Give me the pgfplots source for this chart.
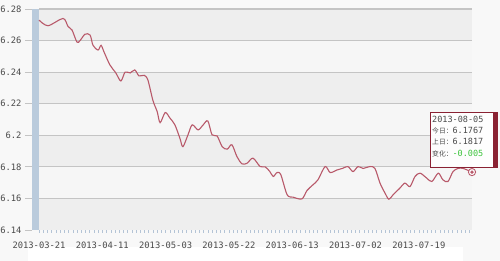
\documentclass[border=0pt]{standalone}
\usepackage{pgfplots}
\pgfplotsset{compat=1.18}
\usepackage{fontspec}
\newfontfamily\lab{DejaVu Sans Mono}
\newfontfamily\cjk{Noto Sans CJK SC}
\definecolor{bg}{HTML}{F8F8F8}
\definecolor{bandlight}{HTML}{F6F6F6}
\definecolor{banddark}{HTML}{EEEEEE}
\definecolor{gridc}{HTML}{C4C4C4}
\definecolor{barblue}{HTML}{BACBDC}
\definecolor{tickblue}{HTML}{B4C4D6}
\definecolor{labgray}{HTML}{4A4A4A}
\definecolor{linered}{HTML}{B8596A}
\definecolor{boxred}{HTML}{8A2233}
\definecolor{greenv}{HTML}{3CC43C}
\begin{document}
\begin{tikzpicture}
\fill[bg] (-32pt,-31pt) rectangle (468pt,230pt);
\fill[white] (-4pt,-31pt) rectangle (431pt,-17pt);
\begin{axis}[
  at={(0pt,0pt)}, anchor=south west,
  scale only axis, width=440pt, height=221pt,
  xmin=-1.66, xmax=102.6, ymin=6.14, ymax=6.28,
  clip=false,
  axis line style={draw=none},
  ytick={6.14,6.16,6.18,6.2,6.22,6.24,6.26,6.28},
  yticklabels={6.14,6.16,6.18,6.2,6.22,6.24,6.26,6.28},
  xtick={0,15,30,45,60,75,90},
  xticklabels={2013-03-21,2013-04-11,2013-05-03,2013-05-22,2013-06-13,2013-07-02,2013-07-19},
  minor xtick={0,1,...,102},
  ytick pos=left, xtick pos=bottom,
  tick align=outside,
  major tick length=7pt,
  minor tick length=3pt,
  ytick style={draw=gridc, line width=0.8pt},
  xtick style={draw=tickblue, line width=0.5pt, /pgfplots/major tick length=3pt},
  minor tick style={draw=tickblue, line width=0.5pt},
  /pgf/number format/assume math mode=true,
  ticklabel style={font=\lab\fontsize{8.8}{9}\selectfont, text=labgray},
  xticklabel style={yshift=-1pt},
]
\fill[bandlight] (axis cs:-1.66,6.14) rectangle (axis cs:102.6,6.28);
\fill[banddark] (axis cs:-1.66,6.26) rectangle (axis cs:102.6,6.28);
\fill[banddark] (axis cs:-1.66,6.22) rectangle (axis cs:102.6,6.24);
\fill[banddark] (axis cs:-1.66,6.18) rectangle (axis cs:102.6,6.20);
\fill[banddark] (axis cs:-1.66,6.14) rectangle (axis cs:102.6,6.16);
\draw[gridc, line width=1.2pt] (axis cs:0,6.28) -- (axis cs:102.6,6.28);
\draw[gridc, line width=1.2pt] (axis cs:0,6.26) -- (axis cs:102.6,6.26);
\draw[gridc, line width=1.2pt] (axis cs:0,6.24) -- (axis cs:102.6,6.24);
\draw[gridc, line width=1.2pt] (axis cs:0,6.22) -- (axis cs:102.6,6.22);
\draw[gridc, line width=1.2pt] (axis cs:0,6.20) -- (axis cs:102.6,6.20);
\draw[gridc, line width=1.2pt] (axis cs:0,6.18) -- (axis cs:102.6,6.18);
\draw[gridc, line width=1.2pt] (axis cs:0,6.16) -- (axis cs:102.6,6.16);
\fill[barblue] (axis cs:-1.66,6.14) rectangle (axis cs:0,6.28);
\addplot[linered, line width=1.1pt, smooth, tension=0.5] table {
x y
0 6.273
2.13 6.2694
5.69 6.274
6.87 6.269
7.82 6.2667
9.0 6.259
9.72 6.260
10.9 6.264
12.1 6.2635
12.8 6.257
14.0 6.254
14.7 6.257
15.4 6.2528
16.8 6.2446
18.2 6.2395
19.4 6.2344
20.4 6.240
21.6 6.2395
22.7 6.2414
23.7 6.2376
24.9 6.238
25.8 6.235
27.0 6.222
28.0 6.215
28.7 6.208
29.9 6.2144
31.0 6.211
32.2 6.2066
33.4 6.198
34.1 6.1928
35.3 6.2003
36.3 6.2066
37.7 6.2034
38.9 6.2066
40.0 6.2091
41.0 6.2003
42.2 6.1996
43.4 6.1928
44.6 6.1912
45.7 6.194
46.9 6.1865
48.1 6.1819
49.3 6.1823
50.7 6.1855
52.4 6.1802
53.6 6.180
54.7 6.177
55.5 6.1739
56.4 6.1764
57.3 6.175
58.8 6.1623
60.2 6.1608
62.3 6.1597
63.5 6.165
64.9 6.1686
66.1 6.1718
67.8 6.1802
69.0 6.1764
70.6 6.178
72.0 6.1791
73.2 6.1802
74.4 6.177
75.6 6.1802
76.8 6.179
78.4 6.1802
79.6 6.179
80.8 6.1697
82.0 6.1633
82.9 6.1595
83.9 6.1623
85.5 6.1665
86.7 6.1697
87.9 6.1675
89.1 6.1739
90.3 6.176
91.9 6.1728
93.1 6.1707
94.6 6.176
95.7 6.1718
96.9 6.1707
98.1 6.177
99.3 6.179
100.5 6.179
102.6 6.1767
};
\addplot[only marks, mark=*, mark size=3.6pt, mark options={fill=white, draw=linered, line width=0.9pt}] coordinates {(102.6,6.1767)};
\addplot[only marks, mark=*, mark size=1.5pt, mark options={fill=linered, draw=linered}] coordinates {(102.6,6.1767)};
\end{axis}
% tooltip
\fill[white, opacity=0.92] (398pt,63pt) rectangle (465pt,118pt);
\draw[boxred, line width=0.9pt] (398pt,63pt) rectangle (465pt,118pt);
\fill[boxred] (461pt,63pt) rectangle (465pt,118pt);
\begin{scope}[every node/.style={anchor=west, inner sep=0pt, font=\lab\fontsize{8.5}{9}\selectfont, text=labgray}]
\node at (400pt,111pt) {2013-08-05};
\node at (400pt,99.5pt) {{\cjk\fontsize{6.8}{7}\selectfont 今日：}6.1767};
\node at (400pt,88pt) {{\cjk\fontsize{6.8}{7}\selectfont 上日：}6.1817};
\node at (400pt,76.5pt) {{\cjk\fontsize{6.8}{7}\selectfont 变化：}\textcolor{greenv}{-0.005}};
\end{scope}
\pgfresetboundingbox
\path[use as bounding box] (-32pt,-31pt) rectangle (468pt,230pt);
\end{tikzpicture}
\end{document}
